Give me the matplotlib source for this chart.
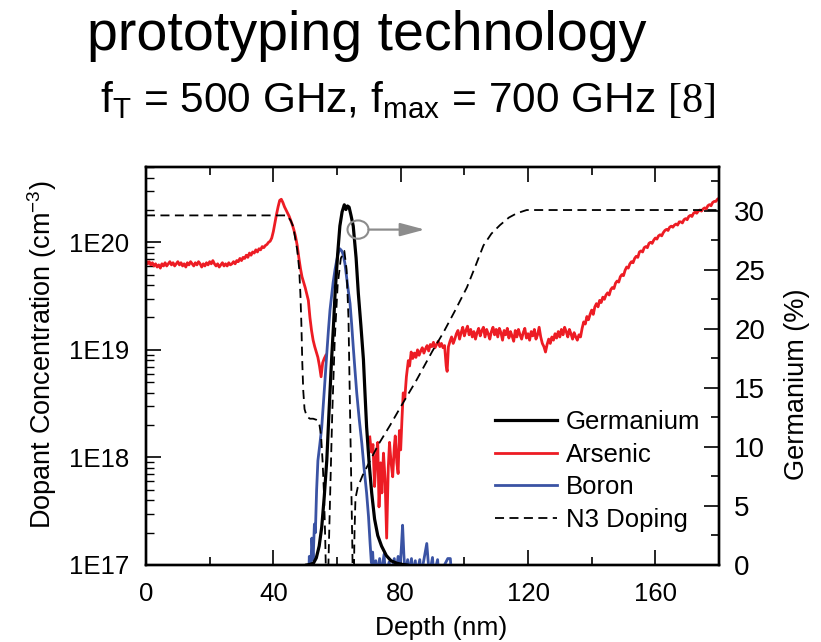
import numpy as np
import matplotlib
matplotlib.use('Agg')
import matplotlib.pyplot as plt
from matplotlib.ticker import MultipleLocator, FixedLocator, FuncFormatter, NullFormatter, LogLocator
from matplotlib.patches import Ellipse
from matplotlib.lines import Line2D

plt.rcParams['font.family'] = ['Liberation Sans', 'DejaVu Sans']
plt.rcParams['mathtext.fontset'] = 'custom'
plt.rcParams['mathtext.rm'] = 'Liberation Sans'
plt.rcParams['mathtext.it'] = 'Liberation Sans:italic'
plt.rcParams['mathtext.sf'] = 'Liberation Serif'

# ---------------- data ----------------
# Arsenic (SIMS), depth in nm, log10 of concentration in cm^-3
arsenic_depth = [
    0.0, 0.5, 1.0, 1.5, 2.0, 2.5, 3.0, 3.5, 4.0, 4.5,
    5.0, 5.5, 6.0, 6.5, 7.0, 7.5, 8.0, 8.5, 9.0, 9.5,
    10.0, 10.5, 11.0, 11.5, 12.0, 12.5, 13.0, 13.5, 14.0, 14.5,
    15.0, 15.5, 16.0, 16.5, 17.0, 17.5, 18.0, 18.5, 19.0, 19.5,
    20.0, 20.5, 21.0, 21.5, 22.0, 22.5, 23.0, 23.5, 24.0, 24.5,
    25.0, 25.5, 26.0, 26.5, 27.0,
    27.5, 28.0, 28.5, 29.0, 29.5, 30.0, 30.5, 31.0, 31.5, 32.0,
    32.5, 33.0, 33.5, 34.0, 34.5, 35.0, 35.5, 36.0, 36.5, 37.0,
    37.5, 38.0, 38.5, 39.0, 39.5, 40.0,
    40.5, 41.0, 41.5, 42.0, 42.5, 43.0, 43.5, 44.0, 44.5, 45.0,
    45.5, 46.0, 46.5, 47.0, 47.5, 48.0, 48.5, 49.0, 49.5, 50.0,
    50.5, 51.0, 51.5, 52.0, 52.5, 53.0, 53.5, 54.0, 54.5, 55.0,
    55.5, 56.0, 56.5, 57.0,
    70.3, 70.8, 71.3, 71.8, 72.3, 72.8, 73.2, 73.7, 74.1, 74.6,
    75.1, 75.6, 76.1, 76.5, 77.0, 77.5, 78.0, 78.3, 78.8, 79.2,
    79.6, 80.0, 80.4, 80.8, 81.3, 81.8, 82.4, 82.8, 83.3, 83.8,
    84.3, 84.8, 85.3, 85.8, 86.3, 86.8, 87.3, 87.8, 88.3, 88.8,
    89.3, 89.8, 90.3, 90.8, 91.3, 91.8, 92.3, 92.8, 93.3, 93.8,
    94.3, 94.6, 95.0, 95.5, 96.0, 96.5, 97.0, 97.5,
    98.0, 98.5, 99.0, 99.5, 100.0, 100.5, 101.0, 101.5, 102.0, 102.5,
    103.0, 103.5, 104.0, 104.5, 105.0, 105.5, 106.0, 106.5, 107.0, 107.5,
    108.0, 108.5, 109.0, 109.5, 110.0, 110.5, 111.0, 111.5, 112.0, 112.5,
    113.0, 113.5, 114.0, 114.5, 115.0, 115.5, 116.0, 116.5, 117.0, 117.5,
    118.0, 118.5, 119.0, 119.5, 120.0, 120.5, 121.0, 121.5, 122.0, 122.5,
    123.0, 123.5, 124.0, 124.5, 125.0, 125.5, 126.0, 126.5, 127.0, 127.5,
    128.0, 128.5, 129.0, 129.5, 130.0, 130.5, 131.0, 131.5, 132.0, 132.5,
    133.0, 133.5, 134.0, 134.5, 135.0, 135.5, 136.0, 136.5,
    137.0, 137.5, 138.0, 138.5, 139.0, 139.5, 140.0, 140.5, 141.0, 141.5,
    142.0, 142.5, 143.0, 143.5, 144.0, 144.5, 145.0, 145.5, 146.0, 146.5,
    147.0, 147.5, 148.0, 148.5, 149.0, 149.5, 150.0, 150.5, 151.0, 151.5,
    152.0, 152.5, 153.0, 153.5, 154.0, 154.5, 155.0, 155.5, 156.0, 156.5,
    157.0, 157.5, 158.0, 158.5, 159.0, 159.5, 160.0, 160.5, 161.0, 161.5,
    162.0, 162.5, 163.0, 163.5, 164.0, 164.5, 165.0, 165.5, 166.0, 166.5,
    167.0, 167.5, 168.0, 168.5, 169.0, 169.5, 170.0, 170.5, 171.0, 171.5,
    172.0, 172.5, 173.0, 173.5, 174.0, 174.5, 175.0, 175.5, 176.0, 176.5,
    177.0, 177.5, 178.0, 178.5, 179.0, 179.5, 180.0,
]
arsenic_exp = [
    19.83, 19.80, 19.82, 19.79, 19.81, 19.78, 19.80, 19.77, 19.79, 19.76,
    19.80, 19.78, 19.81, 19.78, 19.80, 19.82, 19.79, 19.81, 19.78, 19.80,
    19.82, 19.79, 19.81, 19.78, 19.80, 19.77, 19.81, 19.79, 19.82, 19.80,
    19.78, 19.81, 19.79, 19.82, 19.80, 19.77, 19.80, 19.78, 19.81, 19.79,
    19.82, 19.80, 19.83, 19.80, 19.78, 19.80, 19.77, 19.79, 19.81, 19.78,
    19.80, 19.78, 19.81, 19.79, 19.80,
    19.82, 19.80, 19.83, 19.82, 19.85, 19.83, 19.86, 19.85, 19.88, 19.86,
    19.90, 19.88, 19.91, 19.90, 19.93, 19.91, 19.94, 19.93, 19.96, 19.95,
    19.97, 19.98, 20.00, 20.01, 20.04, 20.10,
    20.18, 20.26, 20.33, 20.39, 20.40, 20.37, 20.33, 20.30, 20.27, 20.24,
    20.20, 20.16, 20.11, 20.05, 19.97, 19.86, 19.76, 19.68, 19.63, 19.58,
    19.52, 19.46, 19.30, 19.18, 19.09, 19.03, 18.98, 18.93, 18.85, 18.75,
    18.88, 18.92, 18.95, np.nan,
    18.19, 18.05, 18.12, 17.73, 18.00, 18.14, 17.54, 17.95, 17.67, 18.04,
    17.80, 17.25, 17.90, 18.14, 17.95, 17.82, 18.10, 18.20, 17.95, 17.85,
    18.25, 18.07, 18.35, 18.60, 18.55, 18.75, 18.90, 18.85, 18.98, 18.92,
    18.97, 18.93, 19.00, 18.95, 18.99, 19.02, 18.97, 19.01, 19.04, 18.99,
    19.05, 19.03, 19.07, 19.02, 19.05, 19.08, 19.03, 19.06, 19.02, 19.04,
    18.85, 18.80, 19.03, 19.08, 19.12, 19.06, 19.10, 19.15,
    19.18, 19.10, 19.16, 19.21, 19.13, 19.18, 19.22, 19.14, 19.19, 19.12,
    19.17, 19.10, 19.16, 19.20, 19.13, 19.18, 19.21, 19.12, 19.19, 19.15,
    19.10, 19.17, 19.21, 19.14, 19.19, 19.12, 19.20, 19.16, 19.09, 19.18,
    19.14, 19.20, 19.11, 19.17, 19.13, 19.08, 19.18, 19.12, 19.19, 19.14,
    19.10, 19.16, 19.20, 19.11, 19.15, 19.09, 19.17, 19.13, 19.19, 19.10,
    19.14, 19.21, 19.12, 19.06, 19.03, 18.98, 19.05, 19.10, 19.06, 19.12,
    19.09, 19.15, 19.11, 19.17, 19.12, 19.19, 19.14, 19.21, 19.17, 19.12,
    19.19, 19.15, 19.10, 19.16, 19.12, 19.09, 19.14, 19.12,
    19.20, 19.26, 19.24, 19.31, 19.28, 19.33, 19.37, 19.33, 19.40, 19.43,
    19.40, 19.46, 19.44, 19.49, 19.47, 19.51, 19.53, 19.51, 19.56, 19.58,
    19.57, 19.62, 19.64, 19.63, 19.68, 19.70, 19.69, 19.74, 19.77, 19.76,
    19.80, 19.82, 19.81, 19.85, 19.87, 19.86, 19.91, 19.92, 19.91, 19.95,
    19.96, 19.95, 19.99, 20.00, 19.99, 20.02, 20.04, 20.03, 20.06, 20.07,
    20.06, 20.09, 20.11, 20.12, 20.11, 20.14, 20.15, 20.14, 20.16, 20.17,
    20.16, 20.19, 20.19, 20.18, 20.21, 20.22, 20.21, 20.24, 20.25, 20.24,
    20.27, 20.28, 20.27, 20.29, 20.30, 20.29, 20.31, 20.32, 20.31, 20.34,
    20.35, 20.34, 20.37, 20.38, 20.38, 20.40, 20.41,
]

# Boron (SIMS), log10 of concentration
boron_depth = [50.8, 51.3, 51.7, 52.1, 52.5, 52.9, 53.2, 53.6, 54.0, 54.6,
               55.2, 56.0, 56.8, 57.3, 57.8, 58.3, 58.8, 59.4, 59.9, 60.4,
               60.9, 61.5, 62.0, 62.5, 63.0, 63.5, 64.1, 64.6, 65.1, 65.6,
               66.2, 67.0, 67.8, 68.5, 69.3, 69.9, 70.4, 70.8, 71.2, 71.6,
               72.2, 72.6, 73.4, 73.8, 74.8, 75.2, 76.4, 76.8, 78.0, 78.4,
               79.2, 79.6, 80.2, 80.6, 81.0, 81.4, 82.2, 82.6, 83.4, 83.8,
               84.6, 85.0, 86.0, 86.4, 88.2, 88.6, 89.0, 90.0, 90.4, 91.6,
               92.0, 94.8, 95.6, 96.0, 97.0]
boron_exp = [16.5, 17.08, 16.9, 17.25, 17.05, 17.38, 17.30, 17.70, 17.97, 18.12,
             18.28, 18.62, 18.97, 19.18, 19.37, 19.50, 19.63, 19.75, 19.83, 19.90,
             19.94, 19.92, 19.88, 19.80, 19.68, 19.56, 19.43, 19.24, 19.03, 18.83,
             18.60, 18.35, 18.13, 17.90, 17.67, 17.45, 17.20, 17.02, 17.12, 16.9,
             17.04, 16.9, 17.06, 16.9, 17.10, 16.9, 17.03, 16.9, 17.06, 16.9,
             17.08, 16.9, 17.15, 17.37, 17.10, 16.9, 17.05, 16.9, 17.06, 16.9,
             17.04, 16.9, 17.05, 16.9, 17.20, 17.05, 16.9, 17.07, 16.9, 17.05,
             16.9, 17.06, 17.06, 16.9, 16.5]

# Germanium (%), right axis
ge_depth = [50.5, 51.5, 52.6, 53.5, 54.4, 55.2, 56.0, 56.8, 57.5, 58.3,
            58.9, 59.4, 60.2, 60.9, 61.6, 62.3, 62.8, 63.3, 63.8, 64.4,
            65.1, 66.0, 66.7, 67.5, 68.3, 68.8, 69.3, 70.1, 70.9, 71.8,
            72.8, 74.0, 75.5, 77.0, 78.8, 80.5, 82.0]
ge_pct = [0.0, 0.05, 0.15, 0.6, 1.6, 3.2, 5.8, 8.9, 13.0, 17.4,
          20.3, 23.0, 26.3, 28.7, 29.9, 30.5, 30.1, 30.4, 30.3, 29.6,
          28.7, 26.0, 23.0, 20.3, 17.4, 14.5, 11.7, 8.6, 6.1, 3.9,
          2.5, 1.6, 0.8, 0.35, 0.15, 0.05, 0.0]

# N3 doping (simulated net doping), log10
n3_depth = [0, 44.3, 45.5, 46.3, 46.8, 47.5, 48.1, 48.5, 48.8, 49.1,
            49.4, 49.8, 50.5, 51.5, 52.5, 53.5, 54.0, 54.5, 55.0, 55.5,
            55.9, 56.3, 56.8, 57.3, 57.8, 58.5, 59.3, 60.2, 61.2, 62.3,
            63.0, 63.6, 64.0, 64.4, 64.8, 65.1, 65.5, 65.8, 66.5, 68.0,
            70.4, 73.0, 76.7, 80.0, 85.0, 90.0, 93.4, 97.0, 100.8, 103.5,
            106.0, 108.5, 111.2, 114.0, 116.5, 119.6, 180]
n3_exp = [20.25, 20.25, 20.20, 20.14, 20.05, 19.93, 19.76, 19.52, 19.25, 18.88,
          18.62, 18.45, 18.38, 18.36, 18.36, 18.35, 18.34, 18.30, 18.20, 17.95,
          17.67, 17.25, 16.5, 17.0, 17.6, 18.4, 19.1, 19.6, 19.85, 19.92,
          19.75, 19.3, 18.6, 17.9, 17.2, 16.5, 17.3, 17.62, 17.72, 17.83,
          17.97, 18.12, 18.30, 18.47, 18.72, 18.99, 19.16, 19.36, 19.58, 19.78,
          19.97, 20.08, 20.16, 20.23, 20.27, 20.30, 20.30]

series_labels = ['Germanium', 'Arsenic', 'Boron', 'N3 Doping']
y_tick_values = [1e17, 1e18, 1e19, 1e20]

RED = '#ed1c24'
BLUE = '#3a53a4'
GRAY = '#8c8c8c'

# ---------------- figure ----------------
fig = plt.figure(figsize=(8.21, 6.42), dpi=100)
ax = fig.add_axes([146 / 821, 77 / 642, 573 / 821, 398 / 642])
ax2 = ax.twinx()

ax.plot(arsenic_depth, 10 ** np.array(arsenic_exp), color=RED, lw=2.0, zorder=2)
ax.plot(boron_depth, 10 ** np.array(boron_exp), color=BLUE, lw=2.0, zorder=3)
ax.plot(n3_depth, 10 ** np.array(n3_exp), color='black', lw=1.3,
        ls=(0, (5, 3)), zorder=4)
ax2.plot(ge_depth, ge_pct, color='black', lw=2.3, zorder=5)

ax.set_yscale('log')
ax.set_xlim(0, 180)
ax.set_ylim(1e17, 10 ** 20.70)
ax2.set_ylim(0, 33.7)

# ticks
ax.yaxis.set_major_locator(FixedLocator(y_tick_values))
ax.yaxis.set_major_formatter(FuncFormatter(lambda v, p: '1E%d' % round(np.log10(v))))
ax.yaxis.set_minor_locator(LogLocator(base=10, subs=range(2, 10), numticks=20))
ax.yaxis.set_minor_formatter(NullFormatter())
ax.xaxis.set_major_locator(MultipleLocator(40))
ax.xaxis.set_minor_locator(MultipleLocator(20))
ax.tick_params(axis='y', which='major', direction='in', length=11, width=1.2,
               labelsize=18.5, pad=12, left=True, right=False)
ax.tick_params(axis='y', which='minor', direction='in', length=5.5, width=1.0,
               left=True, right=False)
ax.tick_params(axis='x', which='major', direction='in', length=11, width=1.2,
               labelsize=18.5, pad=12, top=True, bottom=True)
ax.tick_params(axis='x', which='minor', direction='in', length=6, width=1.2,
               top=True, bottom=True)

ax2.yaxis.set_major_locator(MultipleLocator(5))
ax2.yaxis.set_minor_locator(MultipleLocator(2.5))
ax2.tick_params(axis='y', which='major', direction='in', length=11, width=1.2,
                labelsize=20, pad=11)
ax2.tick_params(axis='y', which='minor', direction='in', length=6, width=1.2)

for a in (ax, ax2):
    for s in a.spines.values():
        s.set_linewidth(1.7)

# annotation: circle with arrow pointing to right axis
ax2.add_patch(Ellipse((66.6, 28.4), width=6.6, height=1.55, fill=False,
                      ec=GRAY, lw=1.5, zorder=6))
ax2.annotate('', xy=(87.6, 28.4), xytext=(69.9, 28.4),
             arrowprops=dict(arrowstyle='-|>,head_length=0.75,head_width=0.2',
                             color=GRAY, lw=1.6, shrinkA=0, shrinkB=0,
                             mutation_scale=20), zorder=6)

# legend
handles = [Line2D([], [], color='black', lw=2.3),
           Line2D([], [], color=RED, lw=2.0),
           Line2D([], [], color=BLUE, lw=2.0),
           Line2D([], [], color='black', lw=1.3, ls=(0, (5, 3)))]
ax2.legend(handles, series_labels, loc='center left', bbox_to_anchor=(0.609, 0.236),
           frameon=False, fontsize=18.5, handlelength=2.4, handletextpad=0.35,
           labelspacing=0.33, borderpad=0, borderaxespad=0)

# texts
fig.text(87 / 821, 1 - 50 / 642, 'prototyping technology', fontsize=40,
         ha='left', va='baseline')
fig.text(100 / 821, 1 - 112 / 642,
         r'f$_{\mathrm{T}}$ = 500 GHz, f$_{\mathrm{max}}$ = 700 GHz $\mathsf{[8]}$',
         fontsize=30.5, ha='left', va='baseline')
fig.text(42 / 821, 1 - 355 / 642, r'Dopant Concentration (cm$^{\mathrm{-3}}$)',
         rotation=90, fontsize=19.5, ha='center', va='center')
fig.text(797 / 821, 1 - 384 / 642, 'Germanium (%)', rotation=90, fontsize=19.5,
         ha='center', va='center')
fig.text(441 / 821, 1 - 635 / 642, 'Depth (nm)', fontsize=19, ha='center',
         va='baseline')

fig.savefig('out.png', dpi=100)
